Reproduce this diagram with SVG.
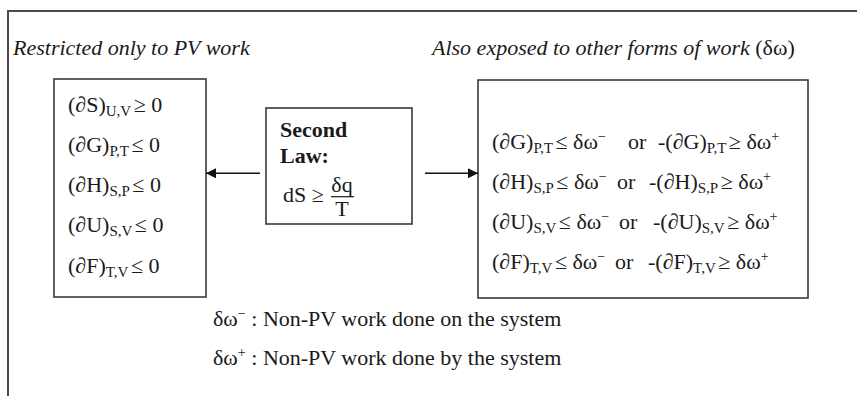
<svg xmlns="http://www.w3.org/2000/svg" width="857" height="396" viewBox="0 0 857 396">
<defs>
<style>
text{font-family:"Liberation Serif","Times New Roman",serif;font-size:22px;fill:#1a1a1a}
.it{font-style:italic}
.b{font-weight:bold}
.sub{font-size:15px}
.sup{font-size:14px}
.box{fill:none;stroke:#3a3a3a;stroke-width:1.6}
.frame{fill:none;stroke:#4a4a4a;stroke-width:2}
.conn{stroke:#111;stroke-width:1.5;fill:none}
</style>
<marker id="ah" markerWidth="10" markerHeight="10" refX="10" refY="5" orient="auto" markerUnits="userSpaceOnUse">
<path d="M0,0 L10,5 L0,10 z" fill="#111"/>
</marker>
</defs>
<rect width="857" height="396" fill="#fff"/>
<path class="frame" d="M8,396 V11 H857"/>
<text class="it" x="13" y="55">Restricted only to PV work</text>
<text x="432" y="55"><tspan class="it">Also exposed to other forms of work </tspan>(δω)</text>

<g id="pv-box">
<rect class="box" x="54" y="79" width="152" height="218"/>
<text x="68" y="111.5">(∂S)<tspan class="sub" dy="4">U,V</tspan><tspan dy="-4" dx="2.5">≥ 0</tspan></text>
<text x="68" y="151.8">(∂G)<tspan class="sub" dy="4">P,T</tspan><tspan dy="-4" dx="2.5">≤ 0</tspan></text>
<text x="68" y="192.1">(∂H)<tspan class="sub" dy="4">S,P</tspan><tspan dy="-4" dx="2.5">≤ 0</tspan></text>
<text x="68" y="232.4">(∂U)<tspan class="sub" dy="4">S,V</tspan><tspan dy="-4" dx="2.5">≤ 0</tspan></text>
<text x="68" y="272.7">(∂F)<tspan class="sub" dy="4">T,V</tspan><tspan dy="-4" dx="2.5">≤ 0</tspan></text>
</g>

<g id="second-law">
<rect class="box" x="266" y="108" width="146" height="116"/>
<text class="b" x="280" y="136.7">Second</text>
<text class="b" x="280" y="163">Law:</text>
<text x="283" y="201.7">dS ≥</text>
<text x="342" y="191.7" text-anchor="middle">δq</text>
<line x1="331" y1="196.7" x2="354" y2="196.7" stroke="#1a1a1a" stroke-width="1.2"/>
<text x="342" y="215.5" text-anchor="middle">T</text>
</g>

<g id="other-work-box">
<rect class="box" x="478" y="80" width="330" height="218"/>
<text x="492" y="149.3">(∂G)<tspan class="sub" dy="4">P,T</tspan><tspan dy="-4" dx="2.5">≤ δω</tspan><tspan class="sup" dy="-8">−</tspan><tspan x="628" dy="8">or</tspan><tspan x="658">-(∂G)</tspan><tspan class="sub" dy="4">P,T</tspan><tspan dy="-4" dx="2.5">≥ δω</tspan><tspan class="sup" dy="-8">+</tspan></text>
<text x="492" y="189.3">(∂H)<tspan class="sub" dy="4">S,P</tspan><tspan dy="-4" dx="2.5">≤ δω</tspan><tspan class="sup" dy="-8">−</tspan><tspan x="617" dy="8">or</tspan><tspan x="649">-(∂H)</tspan><tspan class="sub" dy="4">S,P</tspan><tspan dy="-4" dx="2.5">≥ δω</tspan><tspan class="sup" dy="-8">+</tspan></text>
<text x="492" y="229.3">(∂U)<tspan class="sub" dy="4">S,V</tspan><tspan dy="-4" dx="2.5">≤ δω</tspan><tspan class="sup" dy="-8">−</tspan><tspan x="619" dy="8">or</tspan><tspan x="653">-(∂U)</tspan><tspan class="sub" dy="4">S,V</tspan><tspan dy="-4" dx="2.5">≥ δω</tspan><tspan class="sup" dy="-8">+</tspan></text>
<text x="492" y="269.3">(∂F)<tspan class="sub" dy="4">T,V</tspan><tspan dy="-4" dx="2.5">≤ δω</tspan><tspan class="sup" dy="-8">−</tspan><tspan x="615" dy="8">or</tspan><tspan x="648">-(∂F)</tspan><tspan class="sub" dy="4">T,V</tspan><tspan dy="-4" dx="2.5">≥ δω</tspan><tspan class="sup" dy="-8">+</tspan></text>
</g>

<g id="connectors">
<line class="conn" x1="260" y1="173.3" x2="206" y2="173.3" marker-end="url(#ah)"/>
<line class="conn" x1="425" y1="173.3" x2="478" y2="173.3" marker-end="url(#ah)"/>
</g>

<g id="legend">
<text x="213" y="326">δω<tspan class="sup" dy="-8">−</tspan><tspan dy="8"> : Non-PV work done on the system</tspan></text>
<text x="213" y="365">δω<tspan class="sup" dy="-8">+</tspan><tspan dy="8"> : Non-PV work done by the system</tspan></text>
</g>
</svg>
